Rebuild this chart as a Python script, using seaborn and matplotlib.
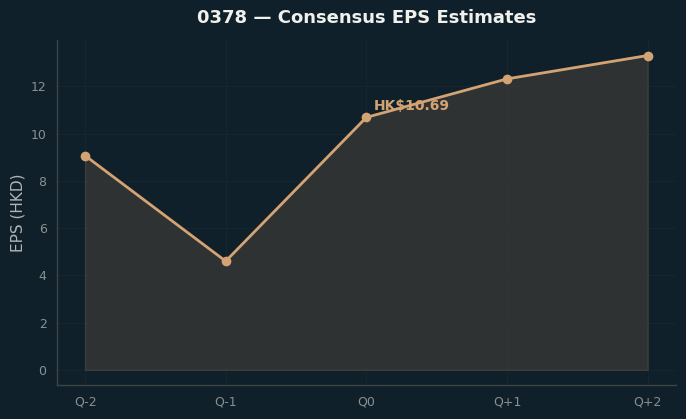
import numpy as np
import pandas as pd
import seaborn as sns
import matplotlib
matplotlib.use("Agg")
import matplotlib.pyplot as plt

quarters = ["Q-2", "Q-1", "Q0", "Q+1", "Q+2"]
eps = [9.07, 4.6, 10.69, 12.32, 13.31]

bg = "#10202a"
line_c = "#d4a373"

sns.set_theme(style="darkgrid")
plt.rcParams["font.family"] = ["DejaVu Sans"]

fig, ax = plt.subplots(figsize=(6.86, 4.19), dpi=100)
fig.patch.set_facecolor(bg)
ax.set_facecolor(bg)

x = np.arange(len(quarters))
df = pd.DataFrame({"x": x, "eps": eps})
ax.fill_between(x, eps, 0, color="#3b3a36", alpha=0.72, edgecolor="#45483f", linewidth=1)
sns.lineplot(data=df, x="x", y="eps", ax=ax, color=line_c, linewidth=2, marker="o",
             markersize=7, markeredgewidth=0)

ax.annotate(f"HK${eps[2]:.2f}", (x[2], eps[2]), xytext=(5, 5), textcoords="offset points",
            color=line_c, fontsize=10, fontweight="bold")

ax.set_xticks(x)
ax.set_xticklabels(quarters)
ax.set_xlabel("")
ax.set_ylabel("EPS (HKD)", color="#b0b4b4", fontsize=11)
ax.set_title("0378 — Consensus EPS Estimates", color="#f0f0ec", fontsize=13,
             fontweight="bold", pad=12)

ax.grid(True, color="#16252e", linewidth=0.8)
ax.tick_params(colors="#8a9090", labelsize=9, length=4, width=0.8)
for t in ax.get_xticklabels() + ax.get_yticklabels():
    t.set_color("#8a9090")
for s in ["top", "right"]:
    ax.spines[s].set_visible(False)
for s in ["left", "bottom"]:
    ax.spines[s].set_visible(True)
    ax.spines[s].set_color("#3c4444")
    ax.spines[s].set_linewidth(1)

plt.subplots_adjust(left=0.083, right=0.985, top=0.905, bottom=0.08)
fig.savefig("out.png", dpi=100, facecolor=bg)
